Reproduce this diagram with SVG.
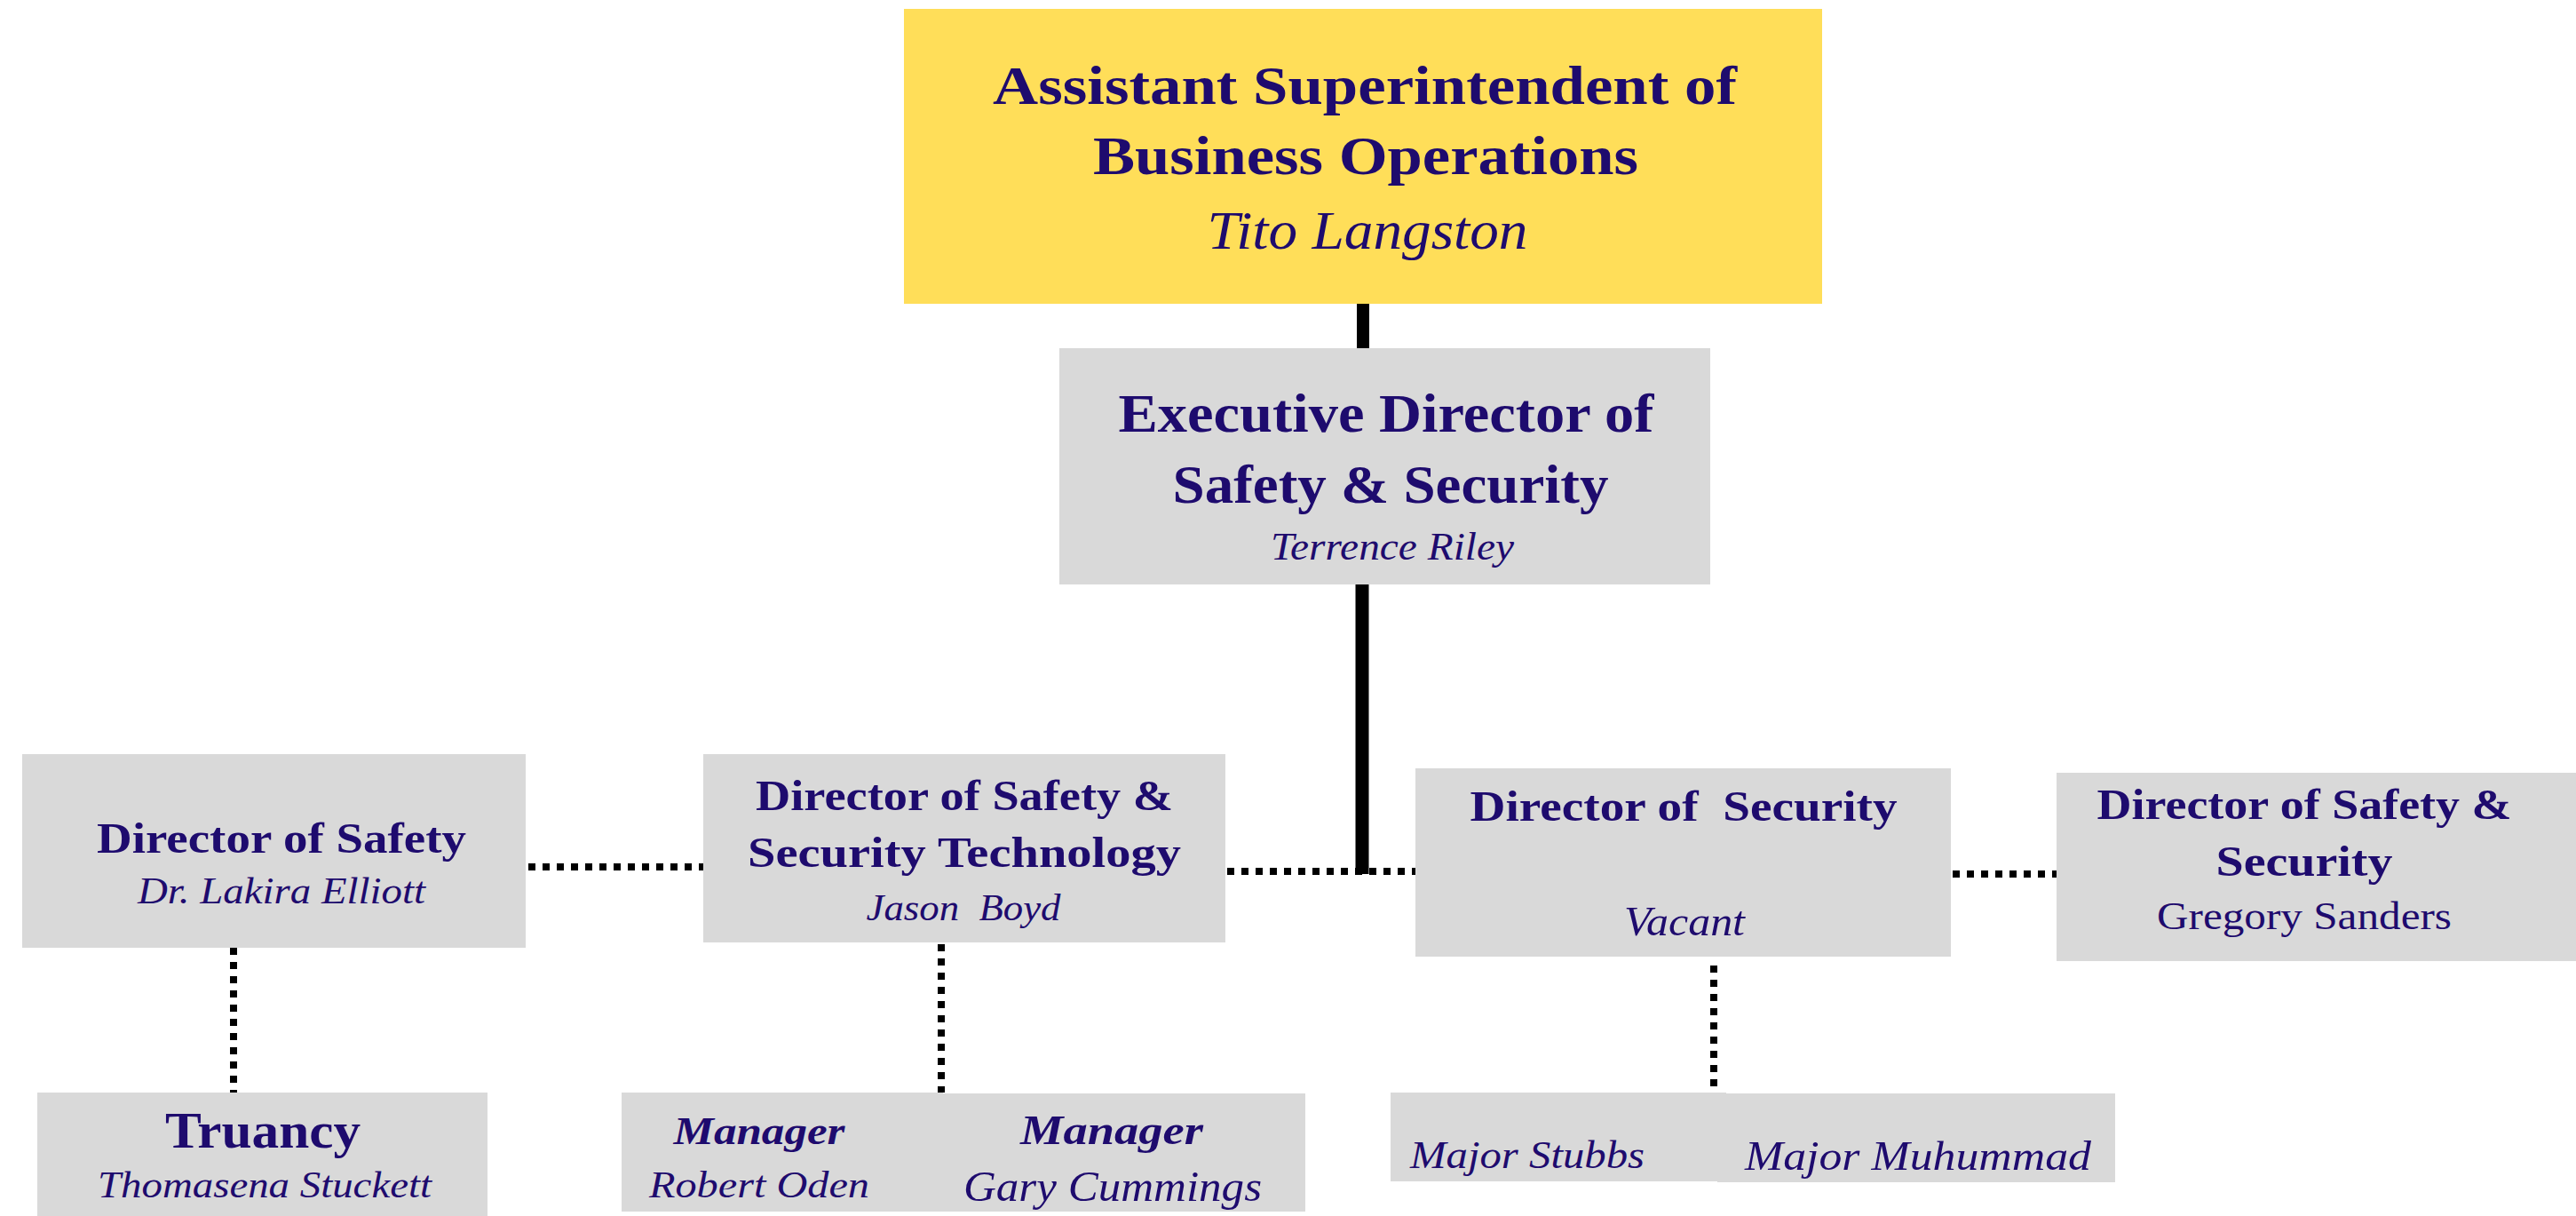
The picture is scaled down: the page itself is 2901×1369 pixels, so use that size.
<svg xmlns="http://www.w3.org/2000/svg" width="2901" height="1369" viewBox="0 0 2901 1369">
<style>
.box{fill:#d9d9d9}
.top{fill:#ffde59}
text{font-family:"Liberation Serif","Times New Roman",serif;fill:#1e0b6e;text-anchor:middle;white-space:pre}
.t{font-weight:bold}
.n{font-style:italic}
.m{font-weight:bold;font-style:italic}
.solid{stroke:#000;fill:none}
.dot{stroke:#000;stroke-width:8;stroke-dasharray:8 8;fill:none}
</style>
<rect width="2901" height="1369" fill="#ffffff"/>
<g id="connectors">
<line class="solid" x1="1535" y1="340" x2="1535" y2="394" stroke-width="14"/>
<line class="solid" x1="1534" y1="656" x2="1534" y2="984" stroke-width="15"/>
<line class="dot" x1="595" y1="976" x2="792" y2="976"/>
<line class="dot" x1="1382" y1="981" x2="1594" y2="981"/>
<line class="dot" x1="2199" y1="984" x2="2316" y2="984"/>
<line class="dot" x1="263" y1="1067" x2="263" y2="1230"/>
<line class="dot" x1="1060" y1="1063" x2="1060" y2="1230"/>
<line class="dot" x1="1930" y1="1087" x2="1930" y2="1230"/>
</g>
<g id="asst-superintendent">
<rect class="top" x="1018" y="10" width="1034" height="332"/>
<text class="t" x="1537" y="117" font-size="62" textLength="838" lengthAdjust="spacingAndGlyphs">Assistant Superintendent of</text>
<text class="t" x="1538" y="196" font-size="62" textLength="614" lengthAdjust="spacingAndGlyphs">Business Operations</text>
<text class="n" x="1540" y="280" font-size="62" textLength="361" lengthAdjust="spacingAndGlyphs">Tito Langston</text>
</g>
<g id="exec-director">
<rect class="box" x="1193" y="392" width="733" height="266"/>
<text class="t" x="1561" y="486" font-size="61" textLength="603" lengthAdjust="spacingAndGlyphs">Executive Director of</text>
<text class="t" x="1566" y="566" font-size="61" textLength="491" lengthAdjust="spacingAndGlyphs">Safety &amp; Security</text>
<text class="n" x="1568" y="630" font-size="44" textLength="274" lengthAdjust="spacingAndGlyphs">Terrence Riley</text>
</g>
<g id="director-safety">
<rect class="box" x="25" y="849" width="567" height="218"/>
<text class="t" x="317" y="960" font-size="48" textLength="416" lengthAdjust="spacingAndGlyphs">Director of Safety</text>
<text class="n" x="317" y="1017" font-size="42" textLength="324" lengthAdjust="spacingAndGlyphs">Dr. Lakira Elliott</text>
</g>
<g id="director-safety-security-technology">
<rect class="box" x="792" y="849" width="588" height="212"/>
<text class="t" x="1086" y="912" font-size="49" textLength="470" lengthAdjust="spacingAndGlyphs">Director of Safety &amp;</text>
<text class="t" x="1086" y="976" font-size="49" textLength="488" lengthAdjust="spacingAndGlyphs">Security Technology</text>
<text class="n" x="1085" y="1036" font-size="42" textLength="219" lengthAdjust="spacingAndGlyphs">Jason  Boyd</text>
</g>
<g id="director-security">
<rect class="box" x="1594" y="865" width="603" height="212"/>
<text class="t" x="1896" y="924" font-size="48" textLength="481" lengthAdjust="spacingAndGlyphs">Director of  Security</text>
<text class="n" x="1897" y="1053" font-size="47" textLength="136" lengthAdjust="spacingAndGlyphs">Vacant</text>
</g>
<g id="director-safety-security">
<rect class="box" x="2316" y="870" width="585" height="212"/>
<text class="t" x="2595" y="922" font-size="49" textLength="467" lengthAdjust="spacingAndGlyphs">Director of Safety &amp;</text>
<text class="t" x="2595" y="986" font-size="49" textLength="199" lengthAdjust="spacingAndGlyphs">Security</text>
<text x="2595" y="1046" font-size="44" textLength="332" lengthAdjust="spacingAndGlyphs">Gregory Sanders</text>
</g>
<g id="truancy">
<rect class="box" x="42" y="1230" width="507" height="139"/>
<text class="t" x="296" y="1292" font-size="56" textLength="220" lengthAdjust="spacingAndGlyphs">Truancy</text>
<text class="n" x="298" y="1348" font-size="42" textLength="376" lengthAdjust="spacingAndGlyphs">Thomasena Stuckett</text>
</g>
<g id="manager-oden">
<rect class="box" x="700" y="1230" width="362" height="134"/>
<text class="m" x="855" y="1288" font-size="44" textLength="193" lengthAdjust="spacingAndGlyphs">Manager</text>
<text class="n" x="855" y="1348" font-size="42" textLength="248" lengthAdjust="spacingAndGlyphs">Robert Oden</text>
</g>
<g id="manager-cummings">
<rect class="box" x="1060" y="1231" width="410" height="133"/>
<text class="m" x="1252" y="1288" font-size="47" textLength="206" lengthAdjust="spacingAndGlyphs">Manager</text>
<text class="n" x="1253" y="1352" font-size="48" textLength="336" lengthAdjust="spacingAndGlyphs">Gary Cummings</text>
</g>
<g id="major-stubbs">
<rect class="box" x="1566" y="1230" width="378" height="100"/>
<text class="n" x="1720" y="1315" font-size="45" textLength="264" lengthAdjust="spacingAndGlyphs">Major Stubbs</text>
</g>
<g id="major-muhummad">
<rect class="box" x="1934" y="1231" width="448" height="100"/>
<text class="n" x="2160" y="1317" font-size="47" textLength="390" lengthAdjust="spacingAndGlyphs">Major Muhummad</text>
</g>
</svg>
